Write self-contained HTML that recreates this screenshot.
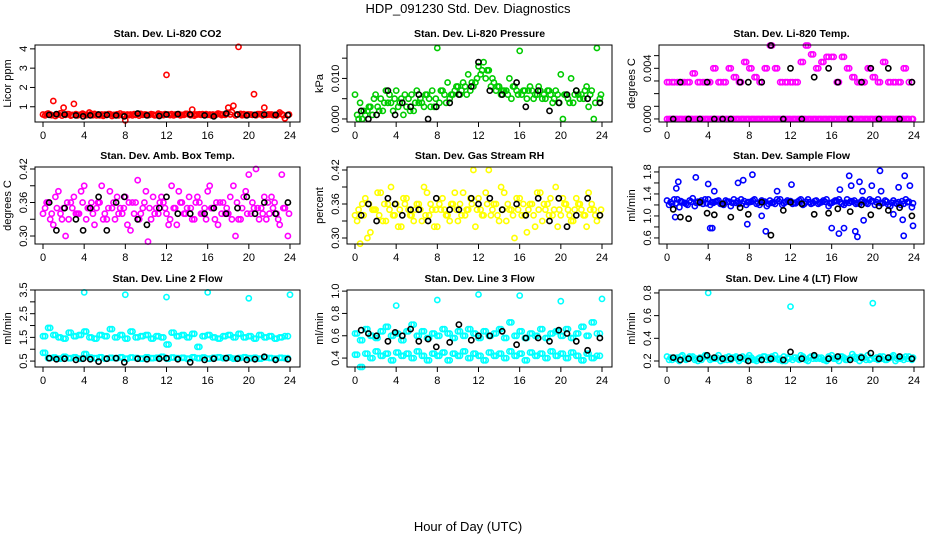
<!DOCTYPE html>
<html><head><meta charset="utf-8"><style>
body{margin:0;background:#fff}
svg{display:block;font-family:"Liberation Sans",Arial,sans-serif}
</style></head><body>
<svg id="chart" width="936" height="540" viewBox="0 0 936 540">
<text x="468" y="13" text-anchor="middle" font-size="13">HDP_091230  Std. Dev. Diagnostics</text>
<text x="468" y="531" text-anchor="middle" font-size="13">Hour of Day (UTC)</text>
</svg>
<script>
const H48=[0,0.5,1,1.5,2,2.5,3,3.5,4,4.5,5,5.5,6,6.5,7,7.5,8,8.5,9,9.5,10,10.5,11,11.5,12,12.5,13,13.5,14,14.5,15,15.5,16,16.5,17,17.5,18,18.5,19,19.5,20,20.5,21,21.5,22,22.5,23,23.5];
const H48b=[0.2,0.7,1.2,1.7,2.2,2.7,3.2,3.7,4.2,4.7,5.2,5.7,6.2,6.7,7.2,7.7,8.2,8.7,9.2,9.7,10.2,10.7,11.2,11.7,12.2,12.7,13.2,13.7,14.2,14.7,15.2,15.7,16.2,16.7,17.2,17.7,18.2,18.7,19.2,19.7,20.2,20.7,21.2,21.7,22.2,22.7,23.2,23.8];
const H48c=[0.35,0.85,1.35,1.85,2.35,2.85,3.35,3.85,4.35,4.85,5.35,5.85,6.35,6.85,7.35,7.85,8.35,8.85,9.35,9.85,10.35,10.85,11.35,11.85,12.35,12.85,13.35,13.85,14.35,14.85,15.35,15.85,16.35,16.85,17.35,17.85,18.35,18.85,19.35,19.85,20.35,20.85,21.35,21.85,22.35,22.85,23.35,23.9];
const HB=[0.6,1.3,2.1,3.2,3.9,4.6,5.4,6.2,7.1,7.9,9.2,10.1,11.3,12.0,13.1,14.3,15.7,16.6,17.8,18.9,19.8,20.6,21.5,22.6,23.8];
const xTicks=[0,4,8,12,16,20,24];

const co2Main=[0.6,0.65,1.3,0.6,0.95,0.62,1.15,0.58,0.6,0.7,0.63,0.55,0.6,0.62,0.58,0.65,0.3,0.6,0.58,0.63,0.6,0.62,0.57,0.6,2.65,0.62,0.6,0.58,0.63,0.85,0.6,0.62,0.58,0.6,0.65,0.6,0.95,1.05,4.1,0.62,0.6,1.65,0.62,0.95,0.6,0.58,0.7,0.4];
const co2Fill=[0.55,0.6,0.52,0.66,0.58,0.54,0.62,0.6,0.56,0.63,0.55,0.6,0.58,0.52,0.61,0.57,0.6,0.55,0.63,0.58,0.56,0.6,0.64,0.57,0.6,0.55,0.62,0.58,0.6,0.54,0.61,0.57,0.6,0.56,0.62,0.58,0.6,0.55,0.63,0.57,0.6,0.56,0.62,0.58,0.6,0.55,0.62,0.58];
const co2Fill2=[0.62,0.56,0.6,0.54,0.62,0.58,0.55,0.64,0.58,0.56,0.6,0.53,0.62,0.58,0.55,0.6,0.57,0.62,0.54,0.6,0.58,0.55,0.6,0.62,0.57,0.6,0.55,0.63,0.56,0.6,0.58,0.62,0.55,0.6,0.57,0.64,0.72,0.6,0.56,0.6,0.58,0.62,0.55,0.6,0.57,0.62,0.56,0.6];
const co2Black=[0.58,0.62,0.6,0.55,0.5,0.55,0.6,0.58,0.55,0.5,0.65,0.55,0.52,0.6,0.62,0.6,0.55,0.5,0.65,0.6,0.55,0.58,0.6,0.58,0.56];

const presMain=[0.006,0.004,0.001,0.003,0.006,0.005,0.007,0.004,0.007,0.005,0.003,0.006,0.007,0.004,0.006,0.007,0.0175,0.007,0.009,0.006,0.008,0.009,0.011,0.008,0.013,0.014,0.012,0.009,0.008,0.007,0.01,0.008,0.0168,0.007,0.008,0.006,0.007,0.005,0.006,0.007,0.011,0.006,0.01,0.007,0.006,0.008,0.007,0.0175];
const presFill=[0.001,0.0,0.002,0.001,0.003,0.002,0.004,0.002,0.003,0.001,0.005,0.002,0.004,0.003,0.005,0.003,0.004,0.006,0.005,0.007,0.006,0.008,0.007,0.009,0.011,0.01,0.008,0.007,0.006,0.007,0.005,0.007,0.006,0.005,0.007,0.006,0.005,0.007,0.004,0.006,0.0,0.005,0.004,0.006,0.005,0.003,0.0,0.005];
const presFill2=[0.0,0.002,0.003,0.005,0.002,0.004,0.006,0.005,0.004,0.006,0.002,0.004,0.005,0.006,0.003,0.005,0.007,0.004,0.006,0.008,0.007,0.006,0.009,0.01,0.012,0.012,0.01,0.008,0.007,0.006,0.008,0.006,0.007,0.007,0.005,0.008,0.006,0.007,0.005,0.004,0.006,0.004,0.006,0.005,0.007,0.006,0.004,0.006];
const presBlack=[0.002,0.0,0.001,0.007,0.001,0.004,0.003,0.006,0.0,0.003,0.004,0.006,0.008,0.014,0.007,0.006,0.009,0.003,0.007,0.002,0.004,0.006,0.007,0.005,0.004];

const tempLow=[0,0,0,0,0,0,0,0,0,0,0,0,0,0,0,0,0,0,0,0,0,0,0,0,0,0,0,0,0,0,0,0,0,0,0,0,0,0,0,0,0,0,0,0,0,0,0,0];
const tempHigh=[0.0029,0.0029,0.0029,0.0029,0.0029,0.0036,0.0029,0.0029,0.0029,0.004,0.0029,0.0029,0.004,0.0033,0.0029,0.0045,0.004,0.0033,0.0029,0.004,0.0058,0.004,0.0029,0.0029,0.0029,0.0029,0.0045,0.0058,0.0051,0.004,0.0045,0.0049,0.0049,0.0029,0.0049,0.004,0.0033,0.0029,0.0029,0.004,0.0033,0.0029,0.0045,0.0029,0.0029,0.0029,0.004,0.0029];
const tempBlack=[0,0.0029,0,0,0.0029,0,0,0,0.0029,0.0029,0.0029,0.0058,0,0.004,0,0.0033,0.004,0.0029,0,0.0029,0.004,0,0.004,0,0.0029];

const ambMain=[0.34,0.36,0.32,0.38,0.35,0.33,0.37,0.34,0.39,0.35,0.32,0.36,0.34,0.38,0.33,0.35,0.37,0.31,0.36,0.34,0.38,0.33,0.35,0.37,0.34,0.39,0.32,0.36,0.35,0.33,0.37,0.34,0.38,0.35,0.32,0.36,0.34,0.39,0.33,0.37,0.41,0.35,0.33,0.37,0.34,0.36,0.32,0.35];
const ambFill=[0.35,0.33,0.37,0.34,0.3,0.36,0.34,0.38,0.33,0.36,0.35,0.39,0.33,0.35,0.37,0.34,0.32,0.36,0.4,0.35,0.29,0.37,0.34,0.36,0.32,0.35,0.38,0.34,0.37,0.33,0.36,0.35,0.39,0.33,0.36,0.34,0.37,0.3,0.33,0.38,0.34,0.42,0.35,0.33,0.37,0.34,0.41,0.3];
const ambFill2=[0.36,0.34,0.35,0.33,0.36,0.35,0.34,0.36,0.35,0.34,0.36,0.33,0.35,0.36,0.34,0.35,0.36,0.34,0.33,0.36,0.35,0.34,0.36,0.35,0.33,0.35,0.36,0.34,0.35,0.36,0.34,0.33,0.35,0.36,0.34,0.35,0.33,0.36,0.35,0.34,0.36,0.35,0.34,0.36,0.35,0.33,0.35,0.34];
const ambBlack=[0.36,0.31,0.35,0.33,0.31,0.35,0.37,0.31,0.36,0.37,0.33,0.32,0.35,0.37,0.34,0.34,0.34,0.35,0.34,0.35,0.37,0.34,0.36,0.34,0.36];

const rhMain=[0.34,0.29,0.37,0.31,0.35,0.38,0.33,0.39,0.36,0.32,0.37,0.34,0.36,0.33,0.38,0.35,0.32,0.37,0.34,0.36,0.33,0.38,0.35,0.42,0.37,0.34,0.42,0.36,0.33,0.38,0.35,0.3,0.37,0.34,0.36,0.32,0.38,0.35,0.37,0.39,0.34,0.36,0.33,0.37,0.35,0.32,0.36,0.33];
const rhFill=[0.33,0.36,0.3,0.35,0.38,0.33,0.36,0.34,0.32,0.37,0.35,0.33,0.36,0.39,0.34,0.32,0.36,0.35,0.33,0.38,0.36,0.34,0.37,0.32,0.35,0.38,0.34,0.36,0.39,0.33,0.35,0.37,0.34,0.31,0.36,0.38,0.33,0.36,0.34,0.32,0.37,0.35,0.33,0.36,0.34,0.38,0.35,0.34];
const rhFill2=[0.35,0.34,0.36,0.35,0.34,0.36,0.35,0.34,0.35,0.36,0.34,0.35,0.35,0.34,0.36,0.35,0.35,0.34,0.36,0.35,0.34,0.35,0.36,0.35,0.34,0.36,0.35,0.34,0.35,0.36,0.34,0.35,0.36,0.35,0.34,0.35,0.36,0.34,0.35,0.35,0.36,0.34,0.35,0.36,0.34,0.35,0.34,0.35];
const rhBlack=[0.34,0.36,0.33,0.37,0.36,0.34,0.35,0.35,0.33,0.37,0.35,0.35,0.37,0.36,0.37,0.35,0.36,0.34,0.37,0.33,0.37,0.32,0.34,0.37,0.34];

const flowMain=[1.28,1.22,1.3,1.25,1.2,1.32,1.26,1.22,1.3,1.24,1.28,1.2,1.26,1.3,1.22,1.27,1.25,1.3,1.2,1.26,1.28,1.22,1.3,1.25,1.27,1.23,1.3,1.26,1.22,1.28,1.25,1.3,1.24,1.27,1.22,1.3,1.26,1.24,1.29,1.22,1.27,1.3,1.24,1.2,1.28,1.25,1.22,1.26];
const flowFill=[1.2,1.3,1.16,1.24,1.28,1.18,1.24,1.3,1.2,1.26,1.22,1.28,1.18,1.24,1.3,1.2,1.26,1.22,1.28,1.18,1.24,1.3,1.2,1.28,1.22,1.26,1.2,1.3,1.24,1.22,1.28,1.18,1.26,1.3,1.2,1.24,1.28,1.22,1.26,1.3,1.2,1.24,1.28,1.18,1.24,1.2,1.3,1.16];
const flowFill2=[1.25,1.23,1.27,1.22,1.26,1.24,1.28,1.23,1.25,1.27,1.22,1.26,1.24,1.27,1.23,1.25,1.28,1.24,1.26,1.22,1.25,1.27,1.23,1.26,1.24,1.28,1.22,1.25,1.27,1.24,1.26,1.23,1.28,1.25,1.24,1.27,1.22,1.26,1.24,1.27,1.25,1.23,1.26,1.24,1.22,1.27,1.25,1.23];
const flowOutX=[0.9,1.1,0.8,2.8,4.0,4.2,4.4,4.6,6.9,7.4,7.8,8.3,9.2,9.6,10.7,12.1,16.0,16.7,16.8,17.2,17.7,17.9,18.3,18.5,18.7,19.0,19.1,19.9,20.7,20.8,22.0,22.5,22.9,23.0,23.1,23.6,23.9];
const flowOutY=[1.5,1.62,0.98,1.7,1.58,0.78,0.78,1.45,1.6,1.65,0.85,1.75,1.0,0.72,1.45,1.57,0.78,0.68,1.48,0.78,1.73,1.55,0.72,0.62,1.62,1.45,0.92,1.55,1.82,1.45,1.03,1.52,0.93,0.64,1.73,1.55,0.82];
const flowBlack=[1.12,0.98,0.95,1.25,1.05,1.02,1.22,0.98,1.15,1.03,1.25,0.65,1.1,1.25,1.22,1.03,1.05,1.13,1.08,1.2,1.02,1.18,1.1,1.15,1.0];

const l2High=[1.55,1.9,1.6,1.5,1.45,1.7,1.55,1.6,1.75,1.5,1.45,1.6,1.55,1.85,1.5,1.6,1.45,1.75,1.5,1.55,1.6,1.45,1.55,1.5,1.2,1.7,1.55,1.6,1.5,1.65,1.1,1.55,1.6,1.5,1.45,1.55,1.6,1.5,1.65,1.5,1.55,1.45,1.6,1.5,1.55,1.45,1.5,1.55];
const l2Low=[0.85,0.62,0.65,0.6,0.68,0.62,0.66,0.6,0.8,0.65,0.62,0.66,0.6,0.64,0.62,0.66,0.6,0.65,0.63,0.6,0.66,0.62,0.64,0.68,0.6,0.65,0.62,0.64,0.6,0.66,0.62,0.65,0.6,0.64,0.66,0.62,0.65,0.6,0.63,0.66,0.62,0.64,0.6,0.65,0.63,0.6,0.64,0.62];
const l2OutX=[4.0,8.0,12.0,16.0,20.0,24.0];
const l2OutY=[3.4,3.3,3.2,3.4,3.15,3.3];
const l2Black=[0.62,0.58,0.6,0.55,0.6,0.58,0.48,0.6,0.62,0.45,0.6,0.58,0.6,0.62,0.58,0.45,0.55,0.6,0.62,0.6,0.55,0.58,0.68,0.55,0.58];

const l3High=[0.62,0.56,0.66,0.6,0.58,0.64,0.68,0.6,0.62,0.56,0.64,0.7,0.6,0.64,0.58,0.62,0.6,0.66,0.62,0.58,0.64,0.6,0.66,0.62,0.58,0.64,0.6,0.62,0.66,0.58,0.72,0.6,0.64,0.58,0.62,0.6,0.66,0.58,0.62,0.64,0.6,0.66,0.58,0.62,0.68,0.6,0.72,0.62];
const l3Low=[0.43,0.32,0.44,0.4,0.46,0.42,0.44,0.38,0.45,0.42,0.44,0.4,0.46,0.42,0.38,0.44,0.42,0.45,0.38,0.44,0.42,0.46,0.4,0.44,0.42,0.38,0.45,0.42,0.44,0.4,0.46,0.42,0.44,0.38,0.45,0.42,0.44,0.4,0.46,0.42,0.44,0.4,0.45,0.42,0.38,0.44,0.4,0.42];
const l3OutX=[4.0,8.0,12.0,16.0,20.0,24.0];
const l3OutY=[0.87,0.92,0.97,0.96,0.91,0.93];
const l3Black=[0.65,0.62,0.6,0.55,0.63,0.6,0.66,0.55,0.57,0.5,0.54,0.7,0.56,0.6,0.6,0.64,0.52,0.58,0.58,0.55,0.65,0.62,0.55,0.47,0.58];

const l4Main=[0.24,0.21,0.23,0.25,0.22,0.24,0.2,0.23,0.8,0.22,0.25,0.21,0.24,0.23,0.2,0.22,0.25,0.21,0.23,0.24,0.21,0.25,0.22,0.2,0.68,0.23,0.25,0.21,0.24,0.22,0.23,0.2,0.25,0.22,0.24,0.21,0.26,0.23,0.22,0.25,0.71,0.21,0.24,0.22,0.25,0.23,0.21,0.24];
const l4Fill=[0.21,0.23,0.2,0.22,0.24,0.21,0.23,0.25,0.21,0.22,0.2,0.23,0.21,0.24,0.22,0.21,0.23,0.2,0.22,0.21,0.24,0.22,0.2,0.23,0.21,0.22,0.24,0.2,0.22,0.23,0.21,0.24,0.22,0.2,0.23,0.22,0.24,0.2,0.23,0.21,0.22,0.24,0.21,0.23,0.2,0.22,0.24,0.21];
const l4Fill2=[0.23,0.22,0.24,0.21,0.23,0.22,0.21,0.24,0.22,0.23,0.22,0.21,0.23,0.22,0.24,0.23,0.21,0.22,0.24,0.23,0.22,0.21,0.24,0.22,0.23,0.21,0.22,0.23,0.24,0.22,0.21,0.23,0.22,0.24,0.21,0.23,0.22,0.24,0.21,0.22,0.23,0.22,0.21,0.24,0.22,0.23,0.22,0.23];
const l4Black=[0.23,0.21,0.22,0.22,0.25,0.23,0.22,0.22,0.23,0.2,0.21,0.22,0.21,0.28,0.22,0.25,0.22,0.24,0.21,0.23,0.27,0.22,0.23,0.24,0.22];

const svg=document.getElementById('chart');
const NS='http://www.w3.org/2000/svg';
function mk(tag,attrs,parent){const e=document.createElementNS(NS,tag);for(const k in attrs)e.setAttribute(k,attrs[k]);(parent||svg).appendChild(e);return e;}

const colL=[35,347,659], rowT=[45,167,290], W=265, HGT=77;
const panels=[
 {title:'Stan. Dev. Li-820 CO2',ylab:'Licor ppm',c:0,r:0,ymin:0.21,ymax:4.2,ticks:[1,2,3,4],labels:['1','2','3','4'],series:[[H48b,co2Fill,'#ff0000'],[H48c,co2Fill2,'#ff0000'],[H48,co2Main,'#ff0000'],[HB,co2Black,'#000']]},
 {title:'Stan. Dev. Li-820 Pressure',ylab:'kPa',c:1,r:0,ymin:-0.00075,ymax:0.01825,ticks:[0,0.005,0.01,0.015],labels:['0.000','','0.010',''],series:[[H48b,presFill,'#00cc00'],[H48c,presFill2,'#00cc00'],[H48,presMain,'#00cc00'],[HB,presBlack,'#000']]},
 {title:'Stan. Dev. Li-820 Temp.',ylab:'degrees C',c:2,r:0,ymin:-0.00024,ymax:0.00584,ticks:[0,0.001,0.002,0.003,0.004,0.005],labels:['0.000','','','','0.004',''],series:[[H48,tempLow,'#ff00ff'],[H48b,tempLow,'#ff00ff'],[H48c,tempLow,'#ff00ff'],[H48b,tempHigh,'#ff00ff'],[H48,tempHigh,'#ff00ff'],[HB,tempBlack,'#000']]},
 {title:'Stan. Dev. Amb. Box Temp.',ylab:'degrees C',c:0,r:1,ymin:0.2857,ymax:0.4236,ticks:[0.30,0.33,0.36,0.39,0.42],labels:['0.30','','0.36','','0.42'],series:[[H48b,ambFill,'#ff00ff'],[H48c,ambFill2,'#ff00ff'],[H48,ambMain,'#ff00ff'],[HB,ambBlack,'#000']]},
 {title:'Stan. Dev. Gas Stream RH',ylab:'percent',c:1,r:1,ymin:0.2894,ymax:0.4253,ticks:[0.30,0.33,0.36,0.39,0.42],labels:['0.30','','0.36','','0.42'],series:[[H48b,rhFill,'#ffff00'],[H48c,rhFill2,'#ffff00'],[H48,rhMain,'#ffff00'],[HB,rhBlack,'#000']]},
 {title:'Stan. Dev. Sample Flow',ylab:'ml/min',c:2,r:1,ymin:0.49,ymax:1.89,ticks:[0.6,0.8,1.0,1.2,1.4,1.6,1.8],labels:['0.6','','1.0','','1.4','','1.8'],series:[[H48b,flowFill,'#0000ff'],[H48c,flowFill2,'#0000ff'],[H48,flowMain,'#0000ff'],[flowOutX,flowOutY,'#0000ff'],[HB,flowBlack,'#000']]},
 {title:'Stan. Dev. Line 2 Flow',ylab:'ml/min',c:0,r:2,ymin:0.25,ymax:3.5,ticks:[0.5,1,1.5,2,2.5,3,3.5],labels:['0.5','','1.5','','2.5','','3.5'],series:[[H48,l2High,'#00ffff'],[H48b,l2High,'#00ffff'],[H48,l2Low,'#00ffff'],[H48b,l2Low,'#00ffff'],[l2OutX,l2OutY,'#00ffff'],[HB,l2Black,'#000']]},
 {title:'Stan. Dev. Line 3 Flow',ylab:'ml/min',c:1,r:2,ymin:0.32,ymax:1.01,ticks:[0.4,0.6,0.8,1.0],labels:['0.4','0.6','0.8','1.0'],series:[[H48,l3High,'#00ffff'],[H48b,l3High,'#00ffff'],[H48,l3Low,'#00ffff'],[H48b,l3Low,'#00ffff'],[l3OutX,l3OutY,'#00ffff'],[HB,l3Black,'#000']]},
 {title:'Stan. Dev. Line 4 (LT) Flow',ylab:'ml/min',c:2,r:2,ymin:0.147,ymax:0.826,ticks:[0.2,0.4,0.6,0.8],labels:['0.2','0.4','0.6','0.8'],series:[[H48b,l4Fill,'#00ffff'],[H48c,l4Fill2,'#00ffff'],[H48,l4Main,'#00ffff'],[HB,l4Black,'#000']]}
];

panels.forEach((p,pi)=>{
  const L=colL[p.c], T=rowT[p.r], B=T+HGT;
  const g=mk('g',{});
  
  
  const xs=h=>L+8+h*(247/24);
  const ys=v=>B-(v-p.ymin)/(p.ymax-p.ymin)*HGT;
  const t=mk('text',{x:L+W/2,y:T-8,'text-anchor':'middle','font-size':'10.5','font-weight':'bold'},g);
  t.textContent=p.title;
  
  
  const yl=mk('text',{x:0,y:0,'text-anchor':'middle','font-size':'11',transform:`translate(${L-24},${T+HGT/2}) rotate(-90)`},g);
  yl.textContent=p.ylab;
  
  
  const pg=mk('g',{fill:'none','stroke-width':'1.6'},g);
  p.series.forEach(s=>{
    const [X,Y,col]=s;
    for(let i=0;i<X.length;i++){
      const c=mk('circle',{cx:xs(X[i]).toFixed(1),cy:ys(Y[i]).toFixed(1),r:'2.6',stroke:col},pg);
      
      
    }
  });
  const bx=mk('rect',{x:L,y:T,width:W,height:HGT,fill:'none',stroke:'#000','stroke-width':'1'},g);
  
  
  const xa=mk('g',{},g);
  
  
  mk('line',{x1:xs(0),x2:xs(24),y1:B,y2:B,stroke:'#000'},xa);
  xTicks.forEach(v=>{
    mk('line',{x1:xs(v),x2:xs(v),y1:B,y2:B+5,stroke:'#000'},xa);
    const tl=mk('text',{x:xs(v),y:B+17,'text-anchor':'middle','font-size':'11'},xa);
    tl.textContent=String(v);
    
    
  });
  const ya=mk('g',{},g);
  
  
  p.ticks.forEach((v,i)=>{
    const y=ys(v);
    mk('line',{x1:L-5,x2:L,y1:y,y2:y,stroke:'#000'},ya);
    if(p.labels[i]){
      const tl=mk('text',{x:0,y:0,'text-anchor':'middle','font-size':'11',transform:`translate(${L-8},${y}) rotate(-90)`},ya);
      tl.textContent=p.labels[i];
      
      
    }
  });
});
</script>
</body></html>
